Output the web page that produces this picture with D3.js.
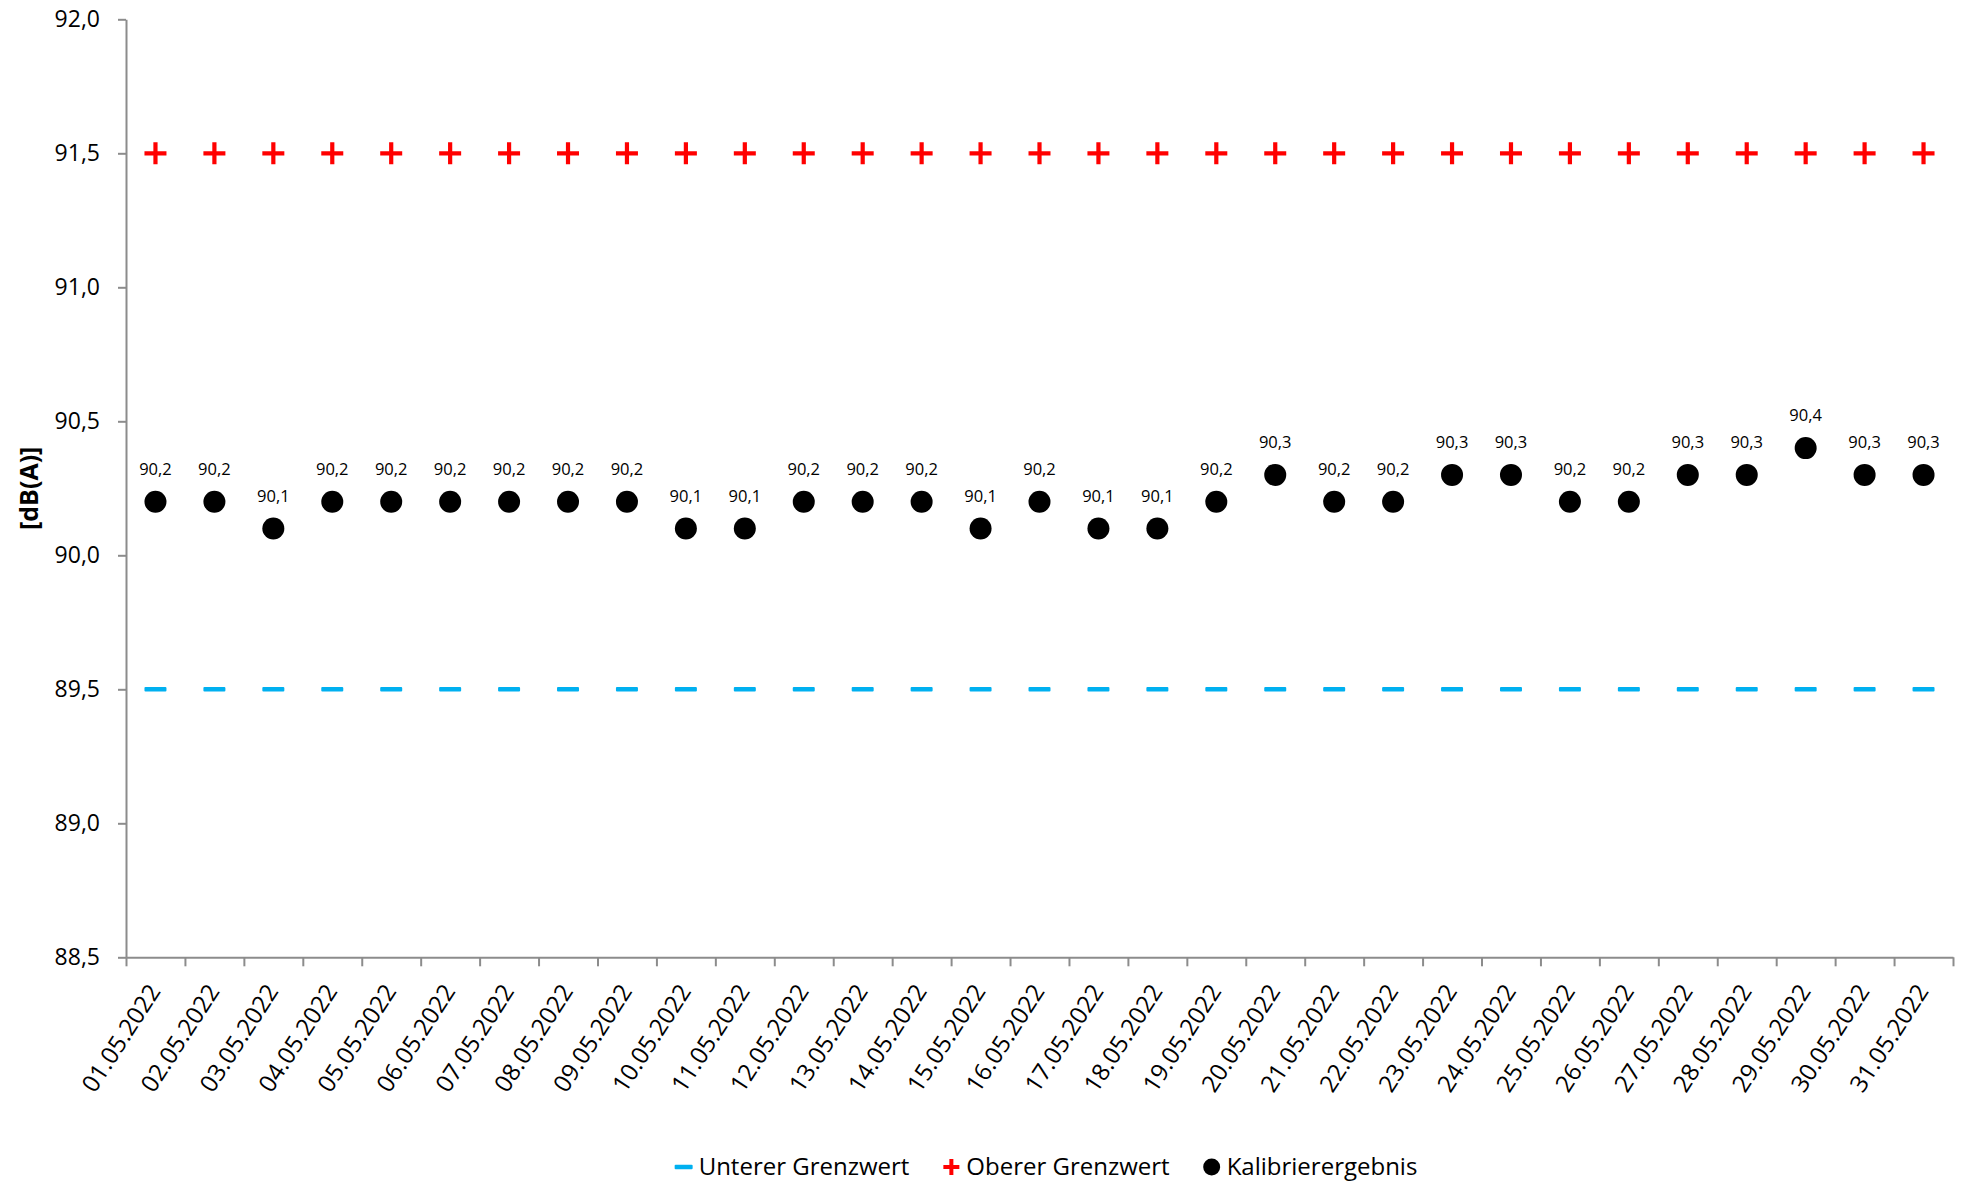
<!DOCTYPE html>
<html>
<head>
<meta charset="utf-8">
<script src="https://cdn.jsdelivr.net/npm/d3@7"></script>
<style>
  body { margin: 0; background: #fff; }
  text { font-family: "Open Sans", "Noto Sans", sans-serif; fill: #000; }
</style>
</head>
<body>
<script>
// Kalibrierung Mai 2022
var dates = [
  '01.05.2022', '02.05.2022', '03.05.2022', '04.05.2022', '05.05.2022',
  '06.05.2022', '07.05.2022', '08.05.2022', '09.05.2022', '10.05.2022',
  '11.05.2022', '12.05.2022', '13.05.2022', '14.05.2022', '15.05.2022',
  '16.05.2022', '17.05.2022', '18.05.2022', '19.05.2022', '20.05.2022',
  '21.05.2022', '22.05.2022', '23.05.2022', '24.05.2022', '25.05.2022',
  '26.05.2022', '27.05.2022', '28.05.2022', '29.05.2022', '30.05.2022',
  '31.05.2022'
];

var kalibrierergebnis = [
  90.2, 90.2, 90.1, 90.2, 90.2, 90.2, 90.2, 90.2, 90.2, 90.1,
  90.1, 90.2, 90.2, 90.2, 90.1, 90.2, 90.1, 90.1, 90.2, 90.3,
  90.2, 90.2, 90.3, 90.3, 90.2, 90.2, 90.3, 90.3, 90.4, 90.3,
  90.3
];

var untererGrenzwert = [
  89.5, 89.5, 89.5, 89.5, 89.5, 89.5, 89.5, 89.5, 89.5, 89.5,
  89.5, 89.5, 89.5, 89.5, 89.5, 89.5, 89.5, 89.5, 89.5, 89.5,
  89.5, 89.5, 89.5, 89.5, 89.5, 89.5, 89.5, 89.5, 89.5, 89.5,
  89.5
];

var obererGrenzwert = [
  91.5, 91.5, 91.5, 91.5, 91.5, 91.5, 91.5, 91.5, 91.5, 91.5,
  91.5, 91.5, 91.5, 91.5, 91.5, 91.5, 91.5, 91.5, 91.5, 91.5,
  91.5, 91.5, 91.5, 91.5, 91.5, 91.5, 91.5, 91.5, 91.5, 91.5,
  91.5
];

var yTicks = [88.5, 89.0, 89.5, 90.0, 90.5, 91.0, 91.5, 92.0];
var legendNames = ['Unterer Grenzwert', 'Oberer Grenzwert', 'Kalibrierergebnis'];

var W = 1968, H = 1186;
var plotLeft = 126, plotRight = 1953, plotTop = 19.3, plotBottom = 957.3;
var axisColor = '#8c8c8c';
var blue = '#00B0F0', red = '#FF0000';

var fmt = function(v) { return v.toFixed(1).replace('.', ','); };

var svg = d3.select(document.body)
  .append('svg')
  .attr('width', W).attr('height', H);

var x = d3.scaleBand().domain(dates).range([plotLeft, plotRight]).padding(0);
var xb = d3.scaleLinear().domain([0, dates.length]).range([plotLeft, plotRight]);
var y = d3.scaleLinear().domain([88.5, 92]).range([plotBottom, plotTop]);
var cx = function(i) { return x(dates[i]) + x.bandwidth() / 2; };

// y axis
var gy = svg.append('g')
  .attr('transform', 'translate(' + plotLeft + ',0)')
  .call(d3.axisLeft(y).tickValues(yTicks).tickFormat(fmt)
    .tickSize(8).tickSizeOuter(0).tickPadding(18));
gy.select('.domain').attr('stroke', axisColor).attr('stroke-width', 2);
gy.selectAll('.tick line').attr('stroke', axisColor).attr('stroke-width', 2);
gy.selectAll('.tick text')
  .style('font-size', '23px')
  .attr('font-family', null);

// x axis: ticks between categories
var gx = svg.append('g')
  .attr('transform', 'translate(0,' + plotBottom + ')')
  .call(d3.axisBottom(xb).tickValues(d3.range(dates.length + 1))
    .tickFormat('').tickSize(9).tickSizeOuter(0));
gx.select('.domain').attr('stroke', axisColor).attr('stroke-width', 2);
gx.selectAll('.tick line').attr('stroke', axisColor).attr('stroke-width', 2);

svg.append('g').selectAll('text')
  .data(dates)
  .join('text')
  .attr('transform', function(d, i) {
    return 'translate(' + (cx(i) + 6) + ',' + (plotBottom + 34) + ') rotate(-57)';
  })
  .attr('text-anchor', 'end')
  .style('font-size', '24px')
  .text(function(d) { return d; });

// y axis title
svg.append('text')
  .attr('transform', 'translate(38,' + ((plotTop + plotBottom) / 2) + ') rotate(-90)')
  .attr('text-anchor', 'middle')
  .style('font-size', '25px')
  .style('font-weight', 'bold')
  .text('[dB(A)]');

// unterer Grenzwert
svg.append('g').selectAll('rect')
  .data(untererGrenzwert)
  .join('rect')
  .attr('x', function(d, i) { return cx(i) - 11; })
  .attr('y', function(d) { return y(d) - 2.3; })
  .attr('width', 22).attr('height', 4.6)
  .attr('rx', 1)
  .attr('fill', blue);

// oberer Grenzwert
svg.append('g').selectAll('path')
  .data(obererGrenzwert)
  .join('path')
  .attr('transform', function(d, i) { return 'translate(' + cx(i) + ',' + y(d) + ')'; })
  .attr('d', 'M-11,0H11M0,-11V11')
  .attr('stroke', red).attr('stroke-width', 4.2)
  .attr('fill', 'none');

// Kalibrierergebnis
svg.append('g').selectAll('circle')
  .data(kalibrierergebnis)
  .join('circle')
  .attr('cx', function(d, i) { return cx(i); })
  .attr('cy', function(d) { return y(d); })
  .attr('r', 11)
  .attr('fill', '#000');

svg.append('g').selectAll('text')
  .data(kalibrierergebnis)
  .join('text')
  .attr('x', function(d, i) { return cx(i); })
  .attr('y', function(d) { return y(d) - 27; })
  .attr('text-anchor', 'middle')
  .style('font-size', '16.5px')
  .text(fmt);

// legend
var legY = 1167;
var leg = svg.append('g');
var symW = 18, symGap = 6, itemGap = 33;
var pos = 0;
legendNames.forEach(function(name, i) {
  var g = leg.append('g').attr('transform', 'translate(' + pos + ',0)');
  if (i === 0) {
    g.append('rect').attr('x', 0).attr('y', legY - 2.3)
      .attr('width', symW).attr('height', 4.6).attr('rx', 1).attr('fill', blue);
  } else if (i === 1) {
    g.append('path')
      .attr('d', 'M1,' + legY + 'H' + (symW - 1) + 'M' + (symW / 2) + ',' + (legY - 8) + 'V' + (legY + 8))
      .attr('stroke', red).attr('stroke-width', 4).attr('fill', 'none');
  } else {
    g.append('circle').attr('cx', symW / 2).attr('cy', legY).attr('r', 8.5).attr('fill', '#000');
  }
  var t = g.append('text')
    .attr('x', symW + symGap)
    .attr('y', legY)
    .attr('dy', '0.35em')
    .style('font-size', '24px')
    .text(name);
  pos += symW + symGap + t.node().getComputedTextLength() + itemGap;
});
var legW = pos - itemGap;
leg.attr('transform', 'translate(' + (1046 - legW / 2) + ',0)');
</script>
</body>
</html>
